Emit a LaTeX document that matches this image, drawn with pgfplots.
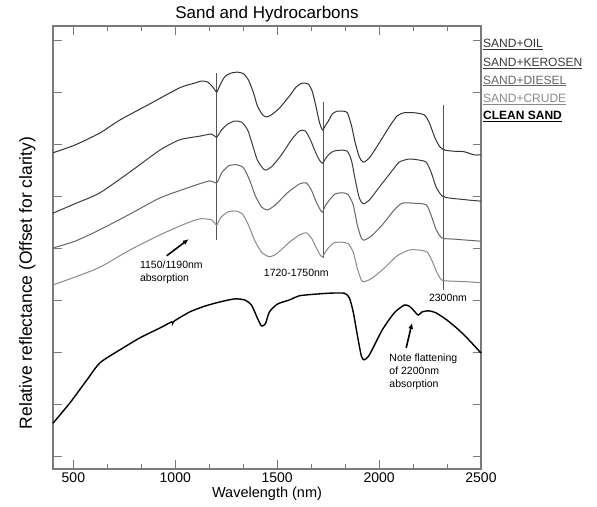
\documentclass[border=0pt]{standalone}
\usepackage{fontspec}
\setmainfont{Liberation Sans}
\usepackage{pgfplots}
\pgfplotsset{compat=1.18}
\usetikzlibrary{arrows.meta}
\definecolor{cOil}{HTML}{333333}
\definecolor{cKer}{HTML}{3C3C3C}
\definecolor{cDie}{HTML}{666666}
\definecolor{cCru}{HTML}{8A8A8A}
\definecolor{cAx}{HTML}{7A7A7A}
\definecolor{cVl}{HTML}{555555}
\begin{document}
\begin{tikzpicture}
\useasboundingbox (-53pt,-37pt) rectangle (544pt,469pt);
\begin{axis}[
  at={(0,0)}, anchor=south west, scale only axis,
  width=428pt, height=443pt,
  xmin=400, xmax=2500, ymin=-0.2308, ymax=8.288,
  xtick={500,1000,1500,2000,2500},
  minor xtick={666.67,833.33,1166.67,1333.33,1666.67,1833.33,2166.67,2333.33},
  ytick={0,1,2,3,4,5,6,7,8}, yticklabels={},
  tick align=inside,
  major tick length=8.5pt, minor tick length=4.5pt,
  every tick/.style={cAx, line width=1pt},
  axis line style={cAx, line width=1.2pt},
  /pgf/number format/assume math mode=true,
  /pgf/number format/1000 sep={},
  ticklabel style={font=\fontsize{14}{16}\selectfont},
  xlabel={Wavelength (nm)},
  xlabel style={at={(axis description cs:0.5,0)}, anchor=north, yshift=-14pt, font=\fontsize{14.5}{16}\selectfont},
  ylabel={Relative reflectance (Offset for clarity)},
  ylabel style={at={(axis description cs:-0.0327,0.42)}, anchor=south, rotate=0, font=\fontsize{17.5}{19}\selectfont},
  title={Sand and Hydrocarbons},
  title style={at={(axis description cs:0.5,1)}, anchor=base, yshift=1pt, font=\fontsize{17}{19}\selectfont},
  clip=false,
]
% vertical marker lines
\addplot[cVl, line width=0.9pt] coordinates {(1203,7.38) (1203,4.17)};
\addplot[cVl, line width=0.9pt] coordinates {(1727,6.83) (1727,3.83)};
\addplot[cVl, line width=0.9pt] coordinates {(2314,6.77) (2314,3.21)};
% SAND+OIL
\addplot[cOil, line width=1pt, smooth, tension=0.4] coordinates {
(400,5.85) (508,6.00) (630,6.23) (728,6.48) (875,6.79) (1022,7.10) (1095,7.19)
(1129,7.23) (1159,7.21) (1183,7.12) (1203,7.02) (1217,7.13) (1242,7.31) (1271,7.38)
(1306,7.40) (1335,7.37) (1359,7.25) (1384,7.00) (1403,6.75) (1428,6.58) (1448,6.54)
(1472,6.58) (1511,6.71) (1560,6.94) (1594,7.12) (1624,7.19) (1653,7.17) (1673,7.02)
(1692,6.71) (1707,6.44) (1722,6.29) (1736,6.37) (1751,6.46) (1771,6.60) (1795,6.65)
(1824,6.65) (1844,6.62) (1864,6.38) (1883,6.04) (1903,5.77) (1922,5.67) (1952,5.75)
(2001,6.04) (2050,6.35) (2089,6.56) (2123,6.62) (2172,6.62) (2221,6.58) (2245,6.44)
(2275,6.13) (2299,5.96) (2324,5.90) (2368,5.88) (2417,5.87) (2466,5.81) (2500,5.81)};
% SAND+KEROSEN
\addplot[cKer, line width=1pt, smooth, tension=0.4] coordinates {
(400,4.69) (508,4.87) (630,5.08) (777,5.48) (924,5.90) (1022,6.10) (1120,6.17)
(1178,6.21) (1203,6.15) (1227,6.29) (1257,6.40) (1291,6.46) (1325,6.44) (1355,6.29)
(1379,6.00) (1403,5.71) (1438,5.52) (1472,5.58) (1521,5.81) (1570,6.10) (1609,6.27)
(1638,6.27) (1663,6.10) (1687,5.87) (1707,5.71) (1722,5.65) (1736,5.73) (1751,5.81)
(1776,5.88) (1815,5.90) (1844,5.88) (1864,5.71) (1883,5.33) (1903,4.98) (1922,4.87)
(1952,4.94) (2001,5.19) (2059,5.48) (2099,5.67) (2148,5.73) (2196,5.71) (2231,5.67)
(2255,5.48) (2280,5.19) (2309,5.02) (2343,4.98) (2392,4.96) (2441,4.94) (2500,4.92)};
% SAND+DIESEL
\addplot[cDie, line width=1pt, smooth, tension=0.4] coordinates {
(400,4.02) (508,4.15) (630,4.37) (777,4.67) (924,4.98) (1071,5.19) (1169,5.31)
(1203,5.27) (1227,5.46) (1262,5.60) (1301,5.62) (1335,5.56) (1364,5.33) (1393,5.02)
(1423,4.81) (1452,4.75) (1492,4.85) (1550,5.08) (1609,5.25) (1643,5.27) (1668,5.13)
(1692,4.90) (1712,4.75) (1722,4.71) (1736,4.83) (1756,4.94) (1785,5.06) (1824,5.08)
(1849,5.04) (1873,4.85) (1893,4.46) (1913,4.21) (1927,4.17) (1962,4.25) (2015,4.46)
(2074,4.75) (2113,4.88) (2172,4.88) (2231,4.85) (2255,4.65) (2280,4.37) (2309,4.21)
(2368,4.19) (2431,4.17) (2500,4.15)};
% SAND+CRUDE
\addplot[cCru, line width=1pt, smooth, tension=0.4] coordinates {
(400,3.31) (508,3.46) (630,3.65) (777,3.98) (924,4.27) (1046,4.48) (1120,4.58)
(1178,4.56) (1203,4.46) (1222,4.60) (1257,4.71) (1296,4.73) (1330,4.67) (1359,4.46)
(1389,4.17) (1423,3.94) (1462,3.85) (1501,3.92) (1560,4.13) (1609,4.27) (1643,4.31)
(1668,4.21) (1692,4.02) (1712,3.88) (1722,3.85) (1736,3.94) (1751,4.02) (1780,4.12)
(1820,4.13) (1849,4.10) (1873,3.94) (1893,3.63) (1913,3.40) (1927,3.37) (1966,3.44)
(2025,3.63) (2089,3.87) (2148,3.98) (2196,3.98) (2236,3.94) (2260,3.77) (2285,3.54)
(2309,3.40) (2368,3.38) (2431,3.37) (2500,3.35)};
% CLEAN SAND
\addplot[black, line width=1.4pt, smooth, tension=0.4] coordinates {
(400,0.65) (483,1.04) (566,1.48) (630,1.81) (728,2.06) (826,2.29) (924,2.48)
(983,2.60) (987,2.57) (997,2.62) (1071,2.79) (1144,2.90) (1217,2.98) (1291,3.04)
(1340,3.02) (1374,2.92) (1403,2.67) (1423,2.52) (1442,2.56) (1462,2.79) (1501,2.94)
(1560,3.02) (1609,3.10) (1683,3.13) (1756,3.15) (1829,3.15) (1854,3.06) (1873,2.79)
(1893,2.35) (1913,1.94) (1927,1.87) (1952,1.96) (2015,2.44) (2074,2.77) (2123,2.92)
(2148,2.90) (2167,2.83) (2192,2.73) (2211,2.79) (2245,2.81) (2280,2.77) (2334,2.63)
(2392,2.44) (2441,2.25) (2500,2.00)};
% annotations
\draw[black, line width=1.6pt, -{Latex[length=6pt,width=5pt]}] (axis cs:958,3.87) -- (axis cs:1066,4.19);
\draw[black, line width=1.6pt, -{Latex[length=6pt,width=5pt]}] (axis cs:2133,2.10) -- (axis cs:2162,2.58);
\node[anchor=north west, align=left, inner sep=0pt, font=\fontsize{10.5}{12.5}\selectfont] at (axis cs:826,3.77) {1150/1190nm\\absorption};
\node[anchor=center, inner sep=0pt, font=\fontsize{10.5}{12.5}\selectfont] at (axis cs:1594,3.54) {1720-1750nm};
\node[anchor=center, inner sep=0pt, font=\fontsize{10.5}{12.5}\selectfont] at (axis cs:2338,3.06) {2300nm};
\node[anchor=north west, align=left, inner sep=0pt, font=\fontsize{10.5}{13}\selectfont] at (axis cs:2050,1.99) {Note flattening\\of 2200nm\\absorption};
% legend
\node[anchor=base west, inner sep=0pt, xshift=2pt, text=cOil, font=\fontsize{12}{14}\selectfont] at (rel axis cs:1,0.952) {\underline{SAND+OIL}};
\node[anchor=base west, inner sep=0pt, xshift=2pt, text=cKer, font=\fontsize{12}{14}\selectfont] at (rel axis cs:1,0.909) {\underline{SAND+KEROSEN}};
\node[anchor=base west, inner sep=0pt, xshift=2pt, text=cDie, font=\fontsize{12}{14}\selectfont] at (rel axis cs:1,0.869) {\underline{SAND+DIESEL}};
\node[anchor=base west, inner sep=0pt, xshift=2pt, text=cCru, font=\fontsize{12}{14}\selectfont] at (rel axis cs:1,0.828) {\underline{SAND+CRUDE}};
\node[anchor=base west, inner sep=0pt, xshift=2pt, text=black, font=\bfseries\fontsize{12}{14}\selectfont] at (rel axis cs:1,0.788) {\underline{CLEAN SAND}};
\end{axis}
\end{tikzpicture}
\end{document}
